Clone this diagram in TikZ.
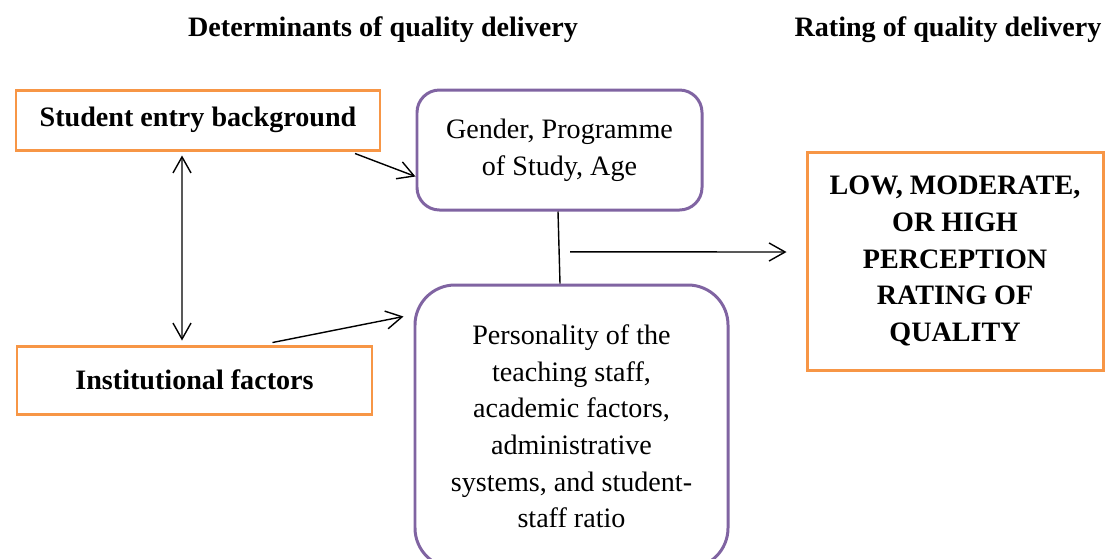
\documentclass[tikz,border=0pt]{standalone}
\usepackage{fontspec}
\setmainfont{Liberation Serif}
\usetikzlibrary{positioning, arrows.meta}

\definecolor{boxorange}{HTML}{F79646}
\definecolor{boxpurple}{HTML}{8064A2}

\newcommand{\bodysize}{\fontsize{16}{20.8}\selectfont}

\tikzset{
    factor/.style = {rectangle, draw = boxorange, line width = 1.7pt, font = \bodysize\bfseries},
    detail/.style = {rectangle, rounded corners = 0.45cm, draw = boxpurple, line width = 1.7pt, align = center},
    barb/.tip = {Straight Barb[length = 3.2mm, width = 3.6mm]},
    link/.style = {line width = 0.8pt, -barb},
    twoway/.style = {line width = 0.8pt, barb-barb},
}

\begin{document}
\begin{tikzpicture}[font = \bodysize]

\useasboundingbox (0, 0) rectangle (22.14, -11.16);
\clip (0, 0) rectangle (22.14, -11.16);

% column headings
\node[font = \bodysize\bfseries] (dethead) at (7.66, -0.6) {Determinants of quality delivery};
\node[font = \bodysize\bfseries] (ratehead) at (18.96, -0.6) {Rating of quality delivery};

% left column
\node[factor, minimum width = 7.28cm, minimum height = 1.2cm] (entry) at (3.96, -2.4) {Student entry background};
\node[factor, minimum width = 7.1cm, minimum height = 1.36cm] (inst) at (3.89, -7.6) {Institutional factors};

% middle column
\node[detail, minimum width = 5.7cm, minimum height = 2.4cm] (gender) at (11.19, -3.0) {Gender, Programme\\of Study, Age};
\node[detail, rounded corners = 0.8cm, minimum width = 6.26cm, minimum height = 5.66cm] (person) at (11.43, -8.53)
    {Personality of the\\teaching staff,\\academic factors,\\administrative\\systems, and student-\\staff ratio};

% outcome
\node[factor, align = center, minimum width = 5.92cm, minimum height = 4.36cm] (rating) at (19.1, -5.22)
    {LOW, MODERATE,\\OR HIGH\\PERCEPTION\\RATING OF\\QUALITY};

\draw [twoway] ([xshift = -0.32cm, yshift = -0.08cm]entry.south) -- ([xshift = -0.25cm, yshift = 0.08cm]inst.north);
\draw [link] ([xshift = 3.14cm, yshift = -0.04cm]entry.south) -- ([yshift = -1.76cm]gender.north west);
\draw [link] ([xshift = 1.56cm, yshift = 0.04cm]inst.north) -- ([xshift = -0.2cm, yshift = -0.66cm]person.north west);

\draw [line width = 0.8pt] ([xshift = -0.03cm]gender.south) -- ([xshift = -0.23cm]person.north) coordinate[pos = 0.56] (joint);
\draw [link] ([xshift = 0.22cm]joint) -- ([xshift = -0.38cm, yshift = 0.18cm]rating.west);

\end{tikzpicture}
\end{document}
